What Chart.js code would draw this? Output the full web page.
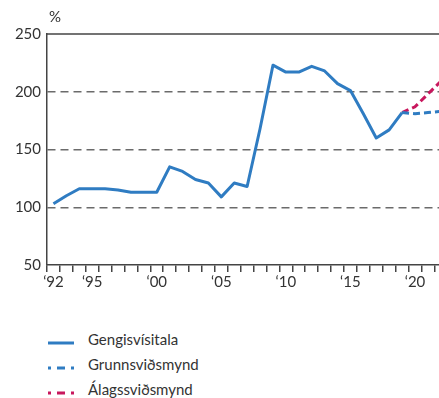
<!DOCTYPE html>
<html>
<head>
<meta charset="utf-8">
<script src="https://cdn.jsdelivr.net/npm/chart.js@4"></script>
<style>
  body { margin: 0; background: #fff; width: 439px; height: 398px; overflow: hidden; position: relative; font-family: Lato, "Open Sans", sans-serif; }
  #wrap { position: absolute; left: 0; top: 0; width: 439px; height: 300px; }
  .leg { position: absolute; left: 0; font-size: 15px; color: #333; }
  .leg svg { position: absolute; left: 46px; top: 0; }
  .leg span { position: absolute; left: 88px; top: -10px; white-space: nowrap; }
</style>
</head>
<body>
<div id="wrap"><canvas id="graphicGengi" width="439" height="300"></canvas></div>

<div class="leg" style="top:340px">
  <svg width="32" height="6"><line x1="2" y1="3" x2="28" y2="3" stroke="#2f7cc2" stroke-width="3"/></svg>
  <span>Gengisvísitala</span>
</div>
<div class="leg" style="top:365px">
  <svg width="32" height="6"><line x1="2" y1="3" x2="28" y2="3" stroke="#2f7cc2" stroke-width="3" stroke-dasharray="3 6 8 6 3"/></svg>
  <span>Grunnsviðsmynd</span>
</div>
<div class="leg" style="top:390px">
  <svg width="32" height="6"><line x1="2" y1="3" x2="28" y2="3" stroke="#c8175d" stroke-width="3" stroke-dasharray="3 6 8 6 3"/></svg>
  <span>Álagssviðsmynd</span>
</div>

<script>
// Gengisvísitala - sogulegt og spar
const years = [1992,1993,1994,1995,1996,1997,1998,1999,2000,2001,2002,2003,2004,2005,2006,2007,2008,2009,2010,2011,2012,2013,2014,2015,2016,2017,2018,2019];
const gengi = [103,110,116,116,116,115,113,113,113,135,131,124,121,109,121,118,168,223,217,217,222,218,207,201,181,160,167,182];

const spaYears = [2019,2020,2021,2022];
const grunn = [182,181,182,183];
const alag = [182,187,198,209];

const labelYears = [1992,1995,2000,2005,2010,2015,2020];
const yTicks = [50,100,150,200,250];

const xMin = 1991.5;
const xMax = 2021.86;

const fontFam = 'Lato, "Open Sans", sans-serif';

function toPoints(xs, ys){
  return xs.map((x, i) => ({x: x, y: ys[i]}));
}

// x ticks: labels on the years, tick marks between the years
let xTickValues = [];
for (let v = 1991.5; v <= 2021.5; v += 1) xTickValues.push(v);
labelYears.forEach(y => xTickValues.push(y));
xTickValues.sort((a, b) => a - b);

const extras = {
  id: 'extras',
  afterDraw(chart){
    const ctx = chart.ctx;
    const a = chart.chartArea;
    ctx.save();
    // top line at 250
    ctx.strokeStyle = '#444';
    ctx.lineWidth = 1.5;
    ctx.beginPath();
    ctx.moveTo(a.left, a.top);
    ctx.lineTo(a.right, a.top);
    ctx.stroke();
    // unit
    ctx.fillStyle = '#333';
    ctx.font = '15px ' + fontFam;
    ctx.textBaseline = 'alphabetic';
    ctx.fillText('%', 49, 22);
    ctx.restore();
  }
};

let chart1;
function drawGengi(){
  var ctx = document.getElementById('graphicGengi').getContext('2d');
  if (chart1) {
    chart1.destroy();
  }
  chart1 = new Chart(ctx, {
    type: 'line',
    data: {
      datasets: [
        {
          label: 'Grunnsviðsmynd',
          data: toPoints(spaYears, grunn),
          borderColor: '#2f7cc2',
          borderWidth: 3,
          borderDash: [7, 4],
          pointRadius: 0,
          tension: 0,
        },
        {
          label: 'Álagssviðsmynd',
          data: toPoints(spaYears, alag),
          borderColor: '#c8175d',
          borderWidth: 3,
          borderDash: [7, 4],
          pointRadius: 0,
          tension: 0,
        },
        {
          label: 'Gengisvísitala',
          data: toPoints(years, gengi),
          borderColor: '#2f7cc2',
          borderWidth: 3,
          pointRadius: 0,
          tension: 0,
          borderJoinStyle: 'round',
        },
      ]
    },
    plugins: [extras],
    options: {
      responsive: false,
      animation: false,
      layout: { padding: { top: 34, right: 0, left: 0, bottom: 0 } },
      plugins: { legend: { display: false }, tooltip: { enabled: false } },
      scales: {
        x: {
          type: 'linear',
          min: xMin,
          max: xMax,
          afterBuildTicks: s => { s.ticks = xTickValues.map(v => ({value: v})); },
          afterFit: s => { s.height = 35; },
          ticks: {
            autoSkip: false,
            maxRotation: 0,
            padding: 1,
            color: '#333',
            font: { family: fontFam, size: 15 },
            callback: v => labelYears.includes(v) ? '\u2018' + String(v).slice(2) : '',
          },
          grid: {
            drawOnChartArea: false,
            tickLength: 7,
            lineWidth: 1.5,
            tickColor: c => (c.tick && Number.isInteger(c.tick.value)) ? 'rgba(0,0,0,0)' : '#444',
          },
          border: { color: '#444', width: 1.5 },
        },
        y: {
          min: 50,
          max: 250,
          afterBuildTicks: s => { s.ticks = yTicks.map(v => ({value: v})); },
          afterFit: s => { s.width = 47; },
          ticks: {
            padding: 6,
            color: '#333',
            font: { family: fontFam, size: 15 },
          },
          grid: {
            drawTicks: false,
            lineWidth: 1.5,
            color: c => (c.tick && (c.tick.value === 50 || c.tick.value === 250)) ? 'rgba(0,0,0,0)' : '#6b6b6b',
          },
          border: { color: '#444', width: 1.5, dash: [8, 5] },
        },
      },
    },
  });
}

drawGengi();
</script>
</body>
</html>
